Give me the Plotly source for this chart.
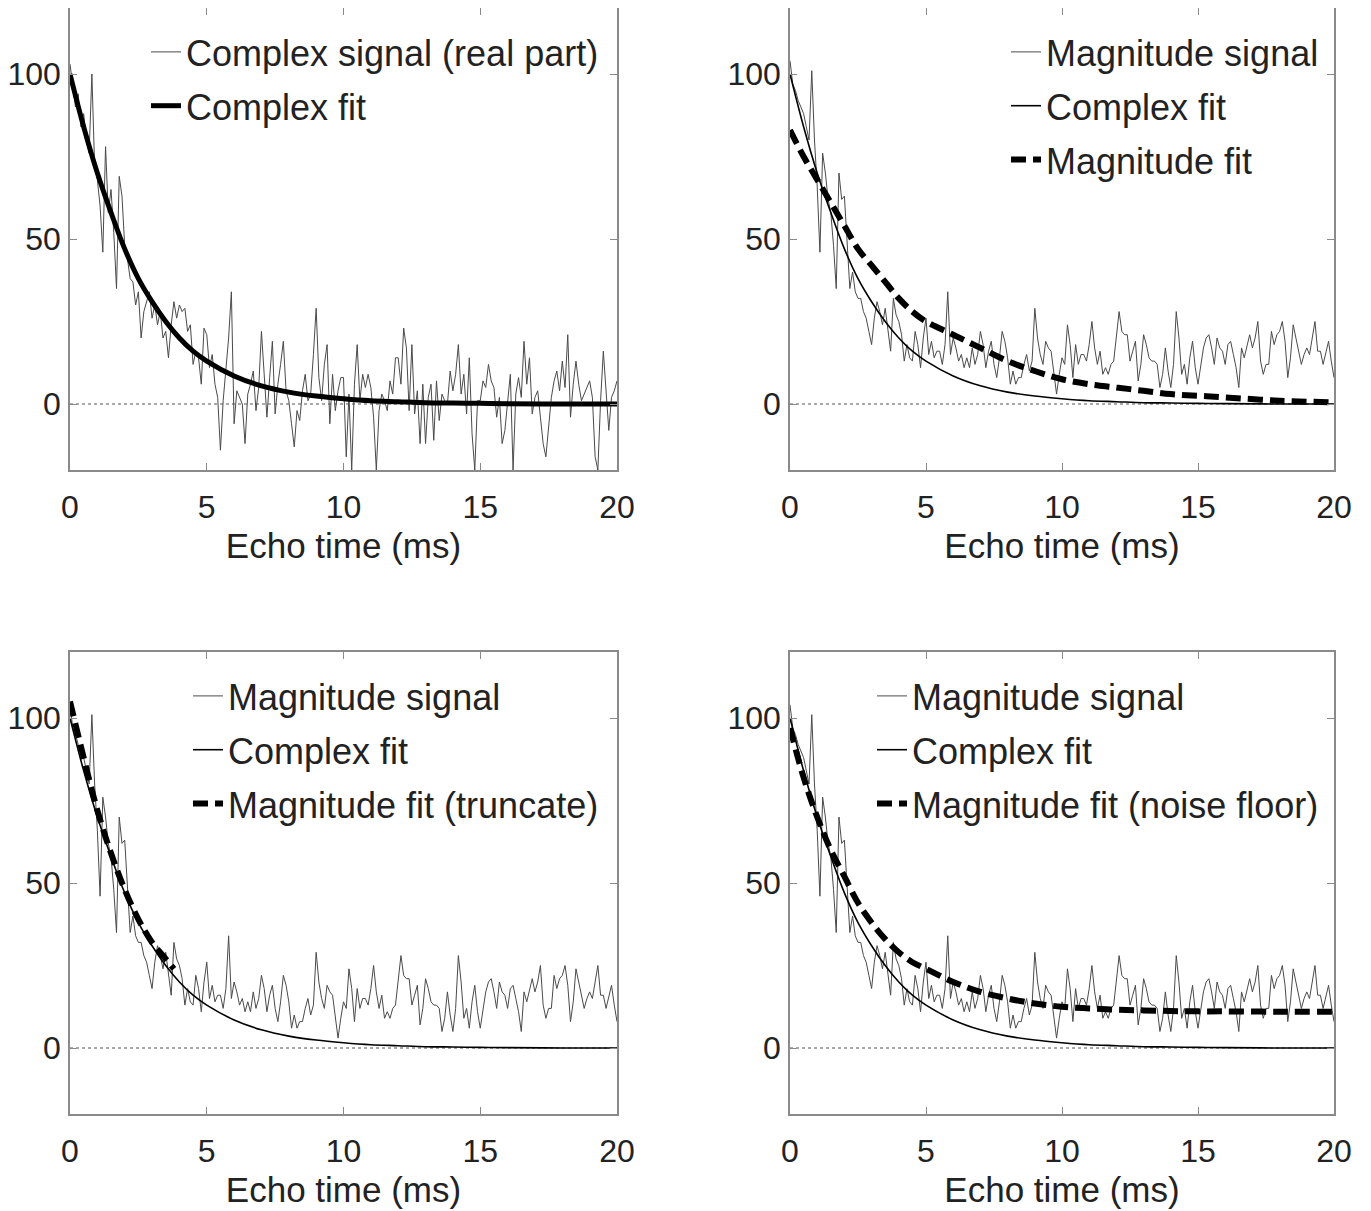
import plotly.graph_objects as go

# echo times of the sampled signal, ms (0.1 ms steps)
t_sig = [round(i * 0.1, 1) for i in range(201)]

# real part of complex signal (top left)
real_part = [
    103, 96, 90, 94, 84, 88, 80, 76, 100, 72,
    68, 60, 46, 78, 58, 65, 52, 35, 69, 63,
    48, 44, 38, 37, 30, 34, 20, 28, 31, 34,
    26, 30, 24, 28, 20, 22, 14, 24, 31, 26,
    30, 28, 29, 22, 24, 12, 16, 14, 6, 23,
    21, 11, 15, 6, 2, -14, 1, 10, 20, 34,
    -6, 4, 2, 0, -12, 3, 6, 10, -2, 5,
    22, 10, -4, 8, 19, -3, 6, 12, 19, 4,
    1, -6, -13, -2, -5, 4, 9, 1, 3, 15,
    29, 8, 1, 12, 18, -6, 9, -2, 4, 8,
    8, -16, 3, -20, 6, 18, 1, 9, 5, 9,
    5, -4, -20, -2, 3, 1, -2, 7, 3, 14,
    14, 6, 23, 17, -2, 18, -3, 4, -12, 6,
    -12, 2, 6, -11, 7, -5, 3, 1, 0, 10,
    4, 9, 18, 3, 9, -3, 14, -9, -20, 1,
    1, 7, 5, 12, 7, 5, -4, 2, -12, -8,
    1, 9, -20, 3, 8, 2, 19, 6, 14, -3,
    2, 4, -4, -12, -16, -6, 2, 7, 10, 4,
    13, 5, 21, -4, 6, 13, 6, 1, 3, 5,
    7, 2, -16, -20, 1, 16, 5, -8, 2, 4,
    7,
]

# magnitude signal (other three panels)
magnitude = [
    104, 97, 95, 92, 90, 88, 84, 80, 101, 80,
    66, 46, 76, 70, 62, 58, 48, 35, 70, 62,
    63, 50, 35, 40, 34, 32, 32, 28, 26, 22,
    18, 26, 31, 28, 24, 29, 22, 16, 32, 27,
    25, 21, 13, 18, 14, 13, 22, 18, 11, 20,
    26, 15, 19, 14, 16, 16, 12, 18, 34, 15,
    20, 17, 13, 15, 11, 14, 11, 17, 12, 15,
    22, 18, 11, 16, 19, 12, 8, 14, 22, 19,
    14, 6, 10, 6, 8, 8, 12, 15, 10, 13,
    29, 20, 15, 12, 19, 17, 16, 10, 3, 9,
    14, 12, 24, 18, 8, 18, 12, 15, 15, 13,
    18, 25, 17, 12, 16, 9, 11, 9, 12, 13,
    20, 28, 22, 21, 21, 13, 16, 19, 7, 12,
    21, 18, 14, 13, 13, 12, 5, 9, 17, 10,
    5, 12, 28, 20, 9, 12, 6, 14, 19, 11,
    6, 12, 17, 20, 21, 17, 12, 20, 17, 16,
    12, 18, 19, 15, 11, 5, 17, 14, 18, 21,
    17, 20, 25, 13, 9, 12, 12, 22, 18, 21,
    22, 25, 19, 8, 14, 24, 20, 16, 12, 15,
    17, 15, 20, 25, 16, 16, 12, 16, 19, 13,
    8,
]

# fitted curves
t_fit = [0, 0.5, 1, 1.5, 2, 2.5, 3, 3.5, 4, 4.5, 5, 6, 7, 8, 9, 10, 11, 12, 13, 14, 15, 16, 18, 20]
complex_fit = [100, 84, 70, 58, 47, 38, 31, 25, 20, 16, 13, 8.5, 5.5, 3.6, 2.4, 1.6, 1.0, 0.7, 0.4, 0.3, 0.2, 0.1, 0, 0]
magnitude_fit = [83, 75, 68, 61, 54, 47, 42, 37, 32, 28, 25, 21, 17, 13, 10, 7.5, 6, 5, 4, 3, 2.5, 2, 1, 0.5]
noise_floor_fit = [97, 82, 70, 60, 52, 44, 38, 33, 29, 26, 24, 20, 17, 15, 13.5, 12.5, 12, 11.6, 11.4, 11.2, 11.1, 11.1, 11, 11]

t_trunc = [0, 0.5, 1, 1.5, 2, 2.5, 3, 3.5, 3.8]
truncate_fit = [105, 88, 72, 59, 48, 39, 32, 27, 24]

x_ticks = [0, 5, 10, 15, 20]
y_ticks = [0, 50, 100]

FONT = "Liberation Sans"
sig_col = "#4a4a4a"

fig = go.Figure()

panels = [
    # (axis suffix, legend name, signal, signal label, thick complex fit, extra fit)
    ("", "legend", real_part, "Complex signal (real part)", True, None),
    ("2", "legend2", magnitude, "Magnitude signal", False, (t_fit, magnitude_fit, "Magnitude fit")),
    ("3", "legend3", magnitude, "Magnitude signal", False, (t_trunc, truncate_fit, "Magnitude fit (truncate)")),
    ("4", "legend4", magnitude, "Magnitude signal", False, (t_fit, noise_floor_fit, "Magnitude fit (noise floor)")),
]

for k, (ax, leg, sig, sig_name, thick, extra) in enumerate(panels):
    xa = "x" + ax
    ya = "y" + ax
    fig.add_trace(go.Scatter(x=t_sig, y=sig, mode="lines", name=sig_name,
                             line=dict(color=sig_col, width=1), xaxis=xa, yaxis=ya,
                             legend=leg, legendgroup=f"s{k}"))
    fig.add_trace(go.Scatter(x=t_fit, y=complex_fit, mode="lines", name="Complex fit",
                             line=dict(color="black", width=5 if thick else 1.6, shape="spline"),
                             xaxis=xa, yaxis=ya, legend=leg, legendgroup=f"c{k}"))
    if extra is not None:
        fig.add_trace(go.Scatter(x=extra[0], y=extra[1], mode="lines", name=extra[2],
                                 line=dict(color="black", width=6, dash="15px,7px", shape="spline"),
                                 xaxis=xa, yaxis=ya, legend=leg, legendgroup=f"m{k}"))
    # dotted zero line
    fig.add_shape(type="line", xref=xa, yref=ya, x0=0, x1=20, y0=0, y1=0,
                  line=dict(color="#555555", width=1, dash="dot"), layer="below")

W, H = 1371, 1211
OFF = 8  # page body margin shifts the figure by this much
cols = [[(70 - OFF) / W, (617 - OFF) / W], [(790 - OFF) / W, (1334 - OFF) / W]]
rows = [[(H - 470 + OFF) / H, (H - 8 + OFF) / H], [(H - 1114 + OFF) / H, (H - 652 + OFF) / H]]

axis_common = dict(showline=True, mirror="ticks", linecolor="#8a8a8a", linewidth=1.5,
                   ticks="inside", ticklen=7, tickcolor="#8a8a8a", tickwidth=1,
                   showgrid=False, zeroline=False, automargin=False,
                   tickfont=dict(family=FONT, size=32, color="#222"))

layout = dict(width=W, height=H, margin=dict(l=0, r=0, t=0, b=0),
              plot_bgcolor="white", paper_bgcolor="white", font=dict(family=FONT, color="#222"))

legend_right = [(604 - OFF) / W, (1324 - OFF) / W]
legend_top = [(H - 22 + OFF) / H, (H - 666 + OFF) / H]

for k, (ax, leg, *_rest) in enumerate(panels):
    r, c = divmod(k, 2)
    yname = "y" + ax
    layout["xaxis" + ax] = dict(axis_common, domain=cols[c], range=[0, 20], tickvals=x_ticks,
                                anchor=yname, ticklabelstandoff=8,
                                title=dict(text="Echo time (ms)", standoff=9,
                                           font=dict(family=FONT, size=35, color="#222")))
    layout["yaxis" + ax] = dict(axis_common, domain=rows[r], range=[-20, 120], tickvals=y_ticks,
                                anchor="x" + ax, ticklabelstandoff=1)
    layout[leg] = dict(x=legend_right[c], y=legend_top[r], xanchor="right", yanchor="top",
                       bgcolor="rgba(0,0,0,0)", borderwidth=0, tracegroupgap=4,
                       traceorder="grouped", font=dict(family=FONT, size=36, color="#222"))

fig.update_layout(**layout)
fig.write_html("out.html")
